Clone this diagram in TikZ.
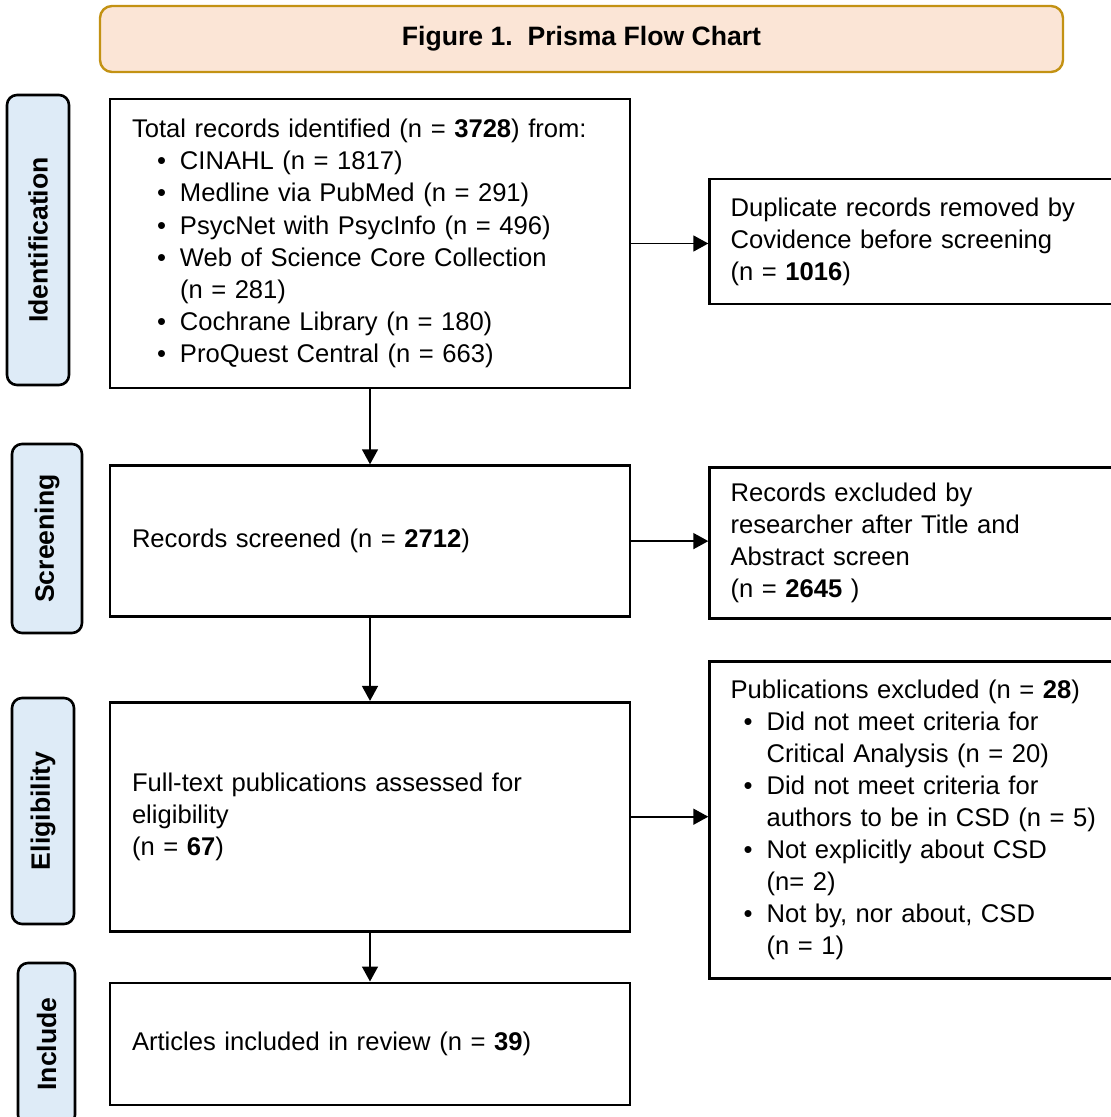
\documentclass[tikz,border=0pt]{standalone}
\usepackage{fontspec}
\setmainfont{Liberation Sans}
\usepackage{xcolor}
\definecolor{titlefill}{HTML}{FBE5D6}
\definecolor{titledraw}{HTML}{C39213}
\definecolor{phasefill}{HTML}{DEEBF7}
\usetikzlibrary{positioning,arrows.meta}

\newcommand{\itm}[2][12.5pt]{\hspace*{#1}\makebox[11.5pt][l]{\textbullet}#2}
\newcommand{\cnt}[2][12.5pt]{\hspace*{\dimexpr#1+11.5pt\relax}#2}

\begin{document}
\begin{tikzpicture}[
      x=0.5pt, y=-0.5pt,
      heading/.style={rectangle, draw=titledraw, line width=1.2pt, rounded corners=6pt,
                      fill=titlefill, font=\fontsize{13.3}{16}\selectfont\bfseries},
      phase/.style={rectangle, draw=black, line width=1.3pt, rounded corners=5pt,
                    fill=phasefill, rotate=90, font=\fontsize{13.3}{16}\selectfont\bfseries},
      box/.style={rectangle, draw=black, line width=1.3pt, minimum width=260pt,
                  text width=238pt, inner xsep=11pt, align=left,
                  font=\fontsize{12.8}{16.1}\selectfont},
      sidebox/.style={rectangle, draw=black, line width=1.3pt, minimum width=206.5pt,
                      text width=185.5pt, inner xsep=10.5pt, align=left,
                      font=\fontsize{12.8}{16}\selectfont},
      flow/.style={-{Triangle[length=7.5pt,width=8pt]}, line width=0.8pt},
    ]
    \useasboundingbox (0,0) rectangle (1110,1117);

    \node[heading, minimum width=481.5pt, minimum height=33pt] (title) at (581.5,39)
      {Figure 1.\ \ Prisma Flow Chart};

    % phase labels on the left
    \node[phase, minimum width=145pt, minimum height=31pt] (ident) at (38,240) {Identification};
    \node[phase, minimum width=94.5pt, minimum height=35pt] (screen) at (47,538.5) {Screening};
    \node[phase, minimum width=113pt, minimum height=31pt] (elig) at (43,811) {Eligibility};
    \node[phase, minimum width=81pt, minimum height=28.5pt] (incl) at (46.5,1044) {Include};

    % main column
    \node[box, minimum height=144.5pt] (b1) at (370,243.5)
      {Total records identified (n = \textbf{3728}) from:\\
       \itm{CINAHL (n = 1817)}\\
       \itm{Medline via PubMed (n = 291)}\\
       \itm{PsycNet with PsycInfo (n = 496)}\\
       \itm{Web of Science Core Collection}\\
       \cnt{(n = 281)}\\
       \itm{Cochrane Library (n = 180)}\\
       \itm{ProQuest Central (n = 663)}};
    \node[box, minimum height=75.5pt, below=37.5pt of b1] (b2) {Records screened (n = \textbf{2712})};
    \node[box, minimum height=114.5pt, below=41.5pt of b2] (b3)
      {Full-text publications assessed for\\ eligibility\\ (n = \textbf{67})};
    \node[box, minimum height=61pt, below=24.5pt of b3] (b4) {Articles included in review (n = \textbf{39})};

    % exclusions on the right
    \node[sidebox, minimum height=62.5pt, right=38.5pt of b1, yshift=1pt] (r1)
      {Duplicate records removed by\\ Covidence before screening\\ (n = \textbf{1016})};
    \node[sidebox, minimum height=75.5pt, right=38.5pt of b2, yshift=-1pt] (r2)
      {Records excluded by\\ researcher after Title and\\ Abstract screen\\ (n = \textbf{2645} )};
    \node[sidebox, minimum height=158.5pt, right=38.5pt of b3, yshift=-1.5pt] (r3)
      {Publications excluded (n = \textbf{28})\\
       \itm[6.5pt]{Did not meet criteria for}\\
       \cnt[6.5pt]{Critical Analysis (n = 20)}\\
       \itm[6.5pt]{Did not meet criteria for}\\
       \cnt[6.5pt]{authors to be in CSD (n = 5)}\\
       \itm[6.5pt]{Not explicitly about CSD}\\
       \cnt[6.5pt]{(n= 2)}\\
       \itm[6.5pt]{Not by, nor about, CSD}\\
       \cnt[6.5pt]{(n = 1)}};

    \draw[flow] (b1) -- (b2);
    \draw[flow] (b2) -- (b3);
    \draw[flow] (b3) -- (b4);
    \draw[flow] (b1) -- (b1 -| r1.west);
    \draw[flow] (b2) -- (b2 -| r2.west);
    \draw[flow] (b3) -- (b3 -| r3.west);
  \end{tikzpicture}
\end{document}
